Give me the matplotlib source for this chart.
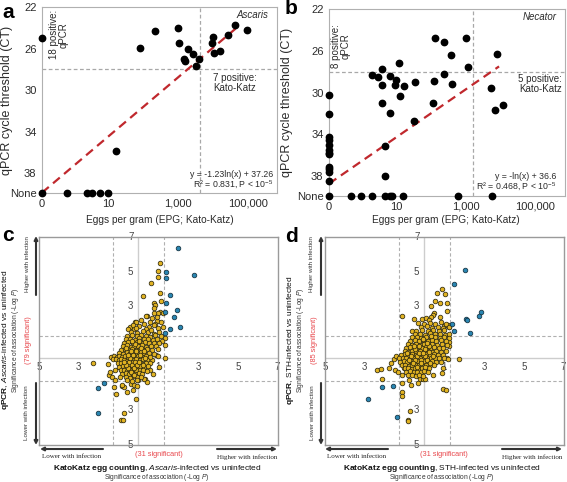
import numpy as np
import matplotlib
matplotlib.use("Agg")
import matplotlib.pyplot as plt

plt.rcParams['font.family'] = ['Liberation Sans', 'DejaVu Sans']
plt.rcParams['mathtext.fontset'] = 'custom'
plt.rcParams['mathtext.rm'] = 'Liberation Sans'
plt.rcParams['mathtext.it'] = 'Liberation Sans:italic'
plt.rcParams['mathtext.bf'] = 'Liberation Sans:bold'

# ---------------- top panels: EPG vs CT (None -> no qPCR signal) ----------------
a_epg = [0, 0, 0.63, 2.3, 3.4, 5.5, 9.3, 16, 81, 210, 1000, 1050, 1900, 1520, 1620,
         2700, 3240, 3900, 9300, 10200, 10700, 15500, 27600, 42900, 97000]
a_ct = [25.0, None, None, None, None, None, None, 35.9, 25.9, 24.3, 24.0, 25.5, 26.0,
        27.05, 27.2, 26.5, 27.65, 27.05, 25.45, 24.9, 26.4, 26.2, 24.7, 23.7, 24.2]
a_fit = (-1.23, 37.26)
a_fit_range = [0.12, 45000]
a_kk_cut = 4200

b_epg = [0] * 13 + [0.5, 1.0, 2.0, 4.9, 6.9, 7.6, 15.6, 600, 5600,
                    2.0, 3.0, 3.9, 3.9, 3.9, 4.9, 4.9, 6.7, 6.9, 9.6, 10, 12, 13.4, 17, 32, 35,
                    115, 123, 131, 234, 240, 390, 415, 990, 1130, 5260, 7100, 8100, 12000]
b_ct = [30.27, 32.05, 34.3, 34.56, 35.0, 35.49, 35.75, 35.9, 37.13, 37.36, 37.58, 38.48, None,
        None, None, None, None, None, None, None, None, None,
        28.35, 28.5, 27.75, 29.25, 31.0, 35.1, 37.95, 28.4, 32.0, 29.3, 28.75, 27.2, 30.35,
        29.4, 32.75, 29.0, 31.0, 28.85, 24.8, 28.2, 25.2, 26.4, 29.15, 24.75, 27.55, 29.55,
        31.65, 26.35, 31.15]
b_fit = (-1.0, 36.6)
b_fit_range = [0.12, 9000]
b_kk_cut = 1650

ct_cut = 28
zero_pos = 0.12
none_ct = 39.9
x_ticks = [zero_pos, 10, 1000, 100000]
x_ticklabels = ['0', '10', '1,000', '100,000']
y_ticks = [22, 26, 30, 34, 38, none_ct]
y_ticklabels = ['22', '26', '30', '34', '38', 'None']

# ---------------- bottom panels: -log P (signed) ----------------
c_blue = [(1.98, 6.34), (2.79, 4.82), (1.41, 4.99), (1.41, 4.64), (1.58, 3.64), (1.41, 3.2),
          (1.95, 2.77), (1.36, 2.68), (1.78, 2.4), (2.08, 1.81), (1.61, 1.69), (1.32, 1.46),
          (-1.71, -1.46), (-2.04, -1.73), (-2.04, -3.16)]
c_yellow = [
    # outliers
    (1.09, 5.47), (0.99, 5.05), (0.97, 4.7), (0.64, 4.35), (0.23, 3.58), (1.07, 3.74),
    (0.8, 3.2), (0.86, 3.05), (1.15, 3.28), (0.8, 2.91), (1.11, 2.64), (0.99, 2.6),
    (0.43, 2.43), (0.36, 2.42), (0.77, 2.62), (1.22, 2.58), (0.94, 2.16), (0.6, 2.1),
    (0.82, 2.0), (-0.16, 2.06), (-0.1, 2.08), (-0.41, 1.77), (-0.52, 1.71), (-0.24, 1.66),
    (1.16, 2.06), (1.22, 1.81), (1.32, 1.14), (1.36, 0.75), (1.32, -0.02), (1.04, -0.5),
    (0.69, -0.12), (0.89, 0.17), (0.6, -0.69), (0.35, -1.18), (0.43, -1.37), (0.26, -1.2),
    (0.73, -0.9), (-2.29, -0.31), (-1.54, -0.35), (-1.5, -0.98), (-1.22, -1.66),
    (-1.13, -2.05), (-0.82, -1.62), (-0.7, -1.66), (-0.58, -1.95), (-0.36, -1.51),
    (-0.28, -1.82), (-0.24, -1.57), (-0.12, -2.39), (-0.07, -1.62), (-0.86, -3.55),
    (-0.78, -3.57), (-0.71, -3.18), (-1.34, 0.08), (-1.42, -0.79), (-1.2, -0.69),
    (-1.34, -1.12), (-1.17, -1.27), (-0.83, -1.56), (0.0, -1.27), (0.1, -0.98),
    # upper arm
    (-0.25, 1.9), (0.05, 1.85), (0.3, 1.95), (0.55, 1.8), (0.8, 1.9), (1.0, 1.75),
    (0.15, 2.2), (0.7, 2.3), (0.95, 2.4), (0.4, 1.7), (-0.1, 1.72),
    # core
    (-0.35, 1.52), (-0.05, 1.45), (0.25, 1.55), (0.5, 1.48), (0.78, 1.42), (1.05, 1.5), (0.62, 1.62),
    (-0.55, 1.28), (-0.3, 1.33), (-0.08, 1.25), (0.15, 1.35), (0.38, 1.3), (0.6, 1.24), (0.85, 1.32),
    (1.12, 1.27), (-0.62, 1.08), (-0.4, 1.12), (-0.18, 1.05), (0.05, 1.14), (0.28, 1.08),
    (0.48, 1.12), (0.72, 1.05), (0.95, 1.1), (1.2, 0.98), (-0.7, 0.9), (-0.5, 0.94), (-0.28, 0.86),
    (-0.08, 0.92), (0.12, 0.88), (0.33, 0.95), (0.55, 0.86), (0.8, 0.9), (1.05, 0.85),
    (-0.78, 0.7), (-0.58, 0.74), (-0.38, 0.66), (-0.2, 0.72), (0.0, 0.68), (0.2, 0.75), (0.4, 0.66),
    (0.62, 0.72), (0.88, 0.68), (-0.85, 0.48), (-0.66, 0.53), (-0.48, 0.45), (-0.3, 0.52),
    (-0.12, 0.47), (0.06, 0.55), (0.25, 0.48), (0.45, 0.52), (0.7, 0.46), (0.98, 0.5),
    (-0.95, 0.3), (-0.75, 0.26), (-0.58, 0.33), (-0.4, 0.27), (-0.22, 0.32), (-0.05, 0.26),
    (0.12, 0.34), (0.3, 0.28), (0.52, 0.32), (0.78, 0.25), (-1.4, 0.05), (-1.25, 0.1),
    (-1.1, 0.04), (-0.95, 0.12), (-0.8, 0.06), (-0.65, 0.13), (-0.5, 0.07), (-0.35, 0.12),
    (-0.18, 0.05), (0.0, 0.1), (0.18, 0.06), (0.38, 0.12), (0.6, 0.08), (1.0, 0.1),
    (-1.3, -0.05), (-1.15, -0.08), (-1.0, -0.12), (-0.85, -0.06), (-0.7, -0.1), (-0.55, -0.14),
    (-0.4, -0.07), (-0.25, -0.12), (-0.1, -0.06), (0.08, -0.13), (0.25, -0.08), (0.45, -0.12),
    (-1.05, -0.3), (-0.88, -0.26), (-0.72, -0.33), (-0.56, -0.27), (-0.42, -0.32), (-0.28, -0.25),
    (-0.14, -0.31), (0.02, -0.27), (0.18, -0.33), (0.36, -0.28), (0.6, -0.3), (-0.95, -0.5),
    (-0.78, -0.46), (-0.62, -0.53), (-0.48, -0.47), (-0.34, -0.52), (-0.2, -0.46), (-0.05, -0.52),
    (0.1, -0.47), (0.28, -0.5), (0.5, -0.46), (-0.88, -0.7), (-0.7, -0.66), (-0.55, -0.72),
    (-0.4, -0.68), (-0.26, -0.73), (-0.1, -0.67), (0.06, -0.71), (0.22, -0.66), (0.42, -0.74),
    (-0.8, -0.9), (-0.62, -0.86), (-0.46, -0.93), (-0.3, -0.88), (-0.15, -0.94), (0.02, -0.87),
    (0.18, -0.92), (-0.92, -1.1), (-0.6, -1.08), (-0.42, -1.14), (-0.22, -1.06), (-0.05, -1.12),
    (0.12, -1.07), (-0.55, -1.28), (-0.3, -1.32), (-0.08, -1.27),
    (-0.45, -0.2), (-0.3, -0.4), (-0.15, -0.2), (-0.5, -0.6), (-0.35, -0.8), (-0.2, -0.6),
    (-0.05, -0.4), (0.05, -0.2), (-0.6, -0.4), (-0.4, 0.0), (-0.25, 0.2), (-0.1, 0.4), (0.1, 0.2),
    (-0.5, 0.2), (-0.35, 0.4), (-0.6, 0.6), (0.15, 0.6), (-0.15, 0.8), (0.05, 1.0), (-0.3, 1.0),
    (0.25, -0.4), (-0.7, -0.2), (-0.2, -1.0), (0.35, 0.0), (0.3, 0.4),
]

d_blue = [(2.05, 5.09), (1.5, 4.26), (2.85, 2.68), (2.75, 2.43), (2.1, 2.25), (2.16, 2.21),
          (1.41, 2.0), (1.5, 1.56), (2.3, 1.46), (-1.59, -1.6), (-2.15, -1.66), (-2.85, -2.37),
          (-1.39, -3.43)]
d_yellow = [
    # outliers
    (0.87, 3.97), (0.66, 3.74), (1.04, 3.68), (0.54, 3.29), (0.79, 3.16), (1.16, 3.2),
    (0.34, 3.02), (1.13, 2.72), (0.5, 2.62), (0.43, 2.47), (0.32, 2.39), (-1.14, 2.43),
    (-0.53, 2.28), (-0.13, 2.27), (0.07, 2.33), (0.25, 2.2), (0.8, 2.35), (1.2, 1.92),
    (1.25, 1.82), (0.97, 1.86), (-0.62, 1.55), (1.24, 0.94), (1.26, 0.71), (1.16, 0.02),
    (1.74, -0.04), (0.96, -0.56), (0.42, -0.98), (0.91, -0.89), (0.93, -1.77), (1.09, -1.86),
    (-2.36, -0.69), (-2.18, -0.62), (-1.79, -0.55), (-1.69, -0.31), (-1.52, -0.05),
    (-1.42, 0.13), (-1.47, -0.69), (-1.31, -0.83), (-1.14, -0.98), (-1.05, -0.6),
    (-2.15, -1.18), (-0.75, -1.27), (-0.22, -1.18), (-1.14, -1.46), (-0.69, -1.56),
    (-0.3, -1.46), (-1.14, -1.98), (-1.15, -2.2), (-0.05, -1.18), (0.04, -1.18),
    (-0.72, -3.04), (-0.84, -3.6), (-0.8, -3.62),
    # core
    (-0.3, 2.02), (0.0, 1.96), (0.3, 2.05), (0.55, 1.98), (0.85, 2.08), (1.1, 1.95),
    (-0.15, 1.78), (0.12, 1.84), (0.4, 1.76), (0.68, 1.82), (0.95, 1.75), (1.22, 1.8),
    (-0.4, 1.58), (-0.1, 1.62), (0.2, 1.55), (0.45, 1.63), (0.72, 1.57), (1.0, 1.6),
    (-0.45, 1.38), (-0.2, 1.42), (0.05, 1.36), (0.3, 1.43), (0.55, 1.37), (0.8, 1.42), (1.05, 1.35),
    (1.25, 1.4), (-0.6, 1.2), (-0.38, 1.24), (-0.15, 1.17), (0.1, 1.22), (0.32, 1.16), (0.55, 1.23),
    (0.78, 1.18), (1.0, 1.22), (1.22, 1.15), (-0.7, 0.98), (-0.48, 1.03), (-0.26, 0.96),
    (-0.05, 1.02), (0.16, 0.97), (0.38, 1.04), (0.6, 0.98), (0.85, 1.02), (1.1, 0.96),
    (-0.8, 0.8), (-0.6, 0.76), (-0.4, 0.83), (-0.2, 0.77), (0.0, 0.82), (0.2, 0.76), (0.4, 0.84),
    (0.62, 0.78), (0.88, 0.82), (1.15, 0.75), (-0.9, 0.58), (-0.7, 0.62), (-0.5, 0.56),
    (-0.3, 0.63), (-0.1, 0.57), (0.1, 0.62), (0.3, 0.55), (0.5, 0.62), (0.72, 0.57), (0.95, 0.6),
    (-1.0, 0.4), (-0.8, 0.36), (-0.6, 0.43), (-0.4, 0.37), (-0.2, 0.42), (0.0, 0.36), (0.2, 0.43),
    (0.4, 0.37), (0.6, 0.42), (0.85, 0.38), (1.1, 0.4), (-1.2, 0.18), (-1.0, 0.22), (-0.8, 0.16),
    (-0.6, 0.23), (-0.42, 0.17), (-0.25, 0.22), (-0.08, 0.16), (0.1, 0.23), (0.28, 0.17),
    (0.48, 0.22), (0.7, 0.16), (0.95, 0.2), (-1.3, 0.02), (-1.1, -0.02), (-0.9, 0.03),
    (-0.72, -0.03), (-0.55, 0.02), (-0.38, -0.02), (-0.2, 0.03), (-0.02, -0.03), (0.15, 0.02),
    (0.32, -0.02), (0.52, 0.03), (0.75, -0.02), (1.0, 0.02), (1.2, -0.03), (-1.25, -0.2),
    (-1.05, -0.17), (-0.85, -0.23), (-0.68, -0.18), (-0.5, -0.22), (-0.33, -0.17), (-0.16, -0.23),
    (0.0, -0.18), (0.18, -0.22), (0.36, -0.17), (0.58, -0.21), (0.85, -0.2), (-1.15, -0.4),
    (-0.95, -0.37), (-0.78, -0.43), (-0.6, -0.38), (-0.44, -0.42), (-0.28, -0.37), (-0.1, -0.43),
    (0.08, -0.38), (0.26, -0.42), (0.48, -0.4), (-1.0, -0.6), (-0.82, -0.56), (-0.64, -0.63),
    (-0.48, -0.57), (-0.3, -0.62), (-0.14, -0.57), (0.04, -0.62), (0.22, -0.58), (-0.9, -0.8),
    (-0.7, -0.77), (-0.52, -0.83), (-0.36, -0.78), (-0.18, -0.82), (0.0, -0.77), (0.2, -0.83),
    (-0.8, -1.0), (-0.6, -0.97), (-0.42, -1.03), (-0.25, -0.98), (-0.05, -1.02),
    (-0.35, 0.1), (-0.15, -0.1), (0.05, 0.1), (-0.45, -0.1), (-0.25, 0.3), (-0.05, 0.3),
    (0.15, -0.1), (-0.55, -0.3), (-0.35, -0.5), (-0.15, -0.3), (0.05, -0.5), (-0.65, 0.1),
    (-0.45, 0.5), (-0.25, 0.7), (0.05, 0.5), (0.25, 0.7), (0.15, 0.9), (-0.05, 1.1), (0.35, 1.3),
    (0.45, 0.1), (-0.75, -0.1), (-0.85, 0.3), (0.3, -0.3), (-0.5, 0.7), (0.25, 0.35),
]

quad_ticks = [-5, -3, -1, 1, 3, 5, 7]
sig_line = 1.3

W, H = 567, 482
fig = plt.figure(figsize=(W / 100, H / 100), dpi=100)


def P(x, y):
    # pixel position (from top-left) -> figure fraction
    return (x / W, 1 - y / H)


def box(l, t, r, b):
    return [l / W, 1 - b / H, (r - l) / W, (b - t) / H]


TXT = '#2b2b2b'
RED = '#e8474c'


def ct_panel(rect, epg, ct, fit, fit_range, kk_cut, name, pos_q, pos_kk, eq, r2):
    ax = fig.add_axes(rect)
    ex = [zero_pos if e == 0 else e for e in epg]
    ey = [none_ct if c is None else c for c in ct]
    ax.set_xscale('log')
    ax.set_xlim(zero_pos, 7e5)
    ax.set_ylim(none_ct, 22)
    ax.axhline(ct_cut, color='#a8a8a8', lw=0.9, dashes=(3, 2), zorder=1)
    ax.axvline(kk_cut, color='#a8a8a8', lw=0.9, dashes=(3, 2), zorder=1)
    fx = np.array(fit_range)
    ax.plot(fx, fit[0] * np.log(fx) + fit[1], color='#c0282d', lw=1.6,
            dashes=(4, 2.5), zorder=2)
    ax.scatter(ex, ey, s=21, color='black', zorder=3, clip_on=False)
    ax.set_xticks(x_ticks)
    ax.set_xticklabels(x_ticklabels)
    ax.minorticks_off()
    ax.set_yticks(y_ticks)
    ax.set_yticklabels(y_ticklabels)
    ax.tick_params(length=0, pad=4, labelsize=8, labelcolor=TXT)
    for s in ax.spines.values():
        s.set_color('#b0b0b0')
        s.set_linewidth(0.8)
    ax.text(0.965, 0.955, name, transform=ax.transAxes, ha='right', va='center',
            fontsize=7, style='italic', color=TXT)
    ax.text(pos_q[0], pos_q[1], pos_q[2], transform=ax.transAxes, rotation=90,
            ha='center', va='center', multialignment='center', fontsize=7,
            color=TXT, linespacing=0.95)
    ax.text(pos_kk[0], pos_kk[1], pos_kk[2], transform=ax.transAxes,
            ha='center', va='center', multialignment='center', fontsize=7,
            color=TXT, linespacing=1.0)
    ax.text(eq[0], eq[1], eq[2], transform=ax.transAxes, ha='right', va='center',
            fontsize=6.3, color=TXT)
    ax.text(r2[0], r2[1], r2[2], transform=ax.transAxes, ha='right', va='center',
            fontsize=6.3, color=TXT)
    return ax


ct_panel(box(42, 7, 277, 193), a_epg, a_ct, a_fit, a_fit_range, a_kk_cut, 'Ascaris',
         (0.072, 0.85, '18 positive:\nqPCR'), (0.82, 0.59, '7 positive:\nKato-Katz'),
         (0.985, 0.098, 'y = -1.23ln(x) + 37.26'),
         (0.985, 0.042, 'R² = 0.831, P < 10$^{-5}$'))
ct_panel(box(329, 9, 565, 196), b_epg, b_ct, b_fit, b_fit_range, b_kk_cut, 'Necator',
         (0.05, 0.80, '8 positive:\nqPCR'), (0.895, 0.60, '5 positive:\nKato-Katz'),
         (0.962, 0.105, 'y = -ln(x) + 36.6'),
         (0.962, 0.047, 'R² = 0.468, P < 10$^{-5}$'))

for lbl, xy in [('a', (8, 12)), ('b', (291, 9)), ('c', (8, 235)), ('d', (292, 236))]:
    fig.text(*P(*xy), lbl, fontsize=15, fontweight='bold', ha='center', va='center')

for xy in [(7, 100), (287, 102)]:
    fig.text(*P(*xy), 'qPCR cycle threshold (CT)', rotation=90, ha='center',
             va='center', fontsize=9, color=TXT)
for xy in [(160, 220), (446, 220)]:
    fig.text(*P(*xy), 'Eggs per gram (EPG; Kato-Katz)', ha='center', va='center',
             fontsize=7.3, color=TXT)


def quad_panel(rect, yellow, blue):
    ax = fig.add_axes(rect)
    ax.set_xlim(-5, 7)
    ax.set_ylim(-5, 7)
    ax.axvline(0, color='#cdcdcd', lw=1.0, zorder=1)
    ax.axhline(0, color='#cdcdcd', lw=1.0, zorder=1)
    for v in (-sig_line, sig_line):
        ax.axvline(v, color='#b0b0b0', lw=0.8, dashes=(3, 2), zorder=1)
        ax.axhline(v, color='#b0b0b0', lw=0.8, dashes=(3, 2), zorder=1)
    ax.set_xticks([])
    ax.set_yticks([])
    for s in ax.spines.values():
        s.set_color('#9a9a9a')
        s.set_linewidth(1.0)
    for t in quad_ticks:
        ax.text(t, -0.5, str(abs(t)), ha='center', va='center', fontsize=7,
                color='#444444', zorder=2, clip_on=False)
        ax.text(-0.25, t, str(abs(t)), ha='right', va='center', fontsize=7,
                color='#444444', zorder=2, clip_on=False)
    yx, yy = zip(*yellow)
    bx, by = zip(*blue)
    ax.scatter(yx, yy, s=11, color='#e2b322', edgecolors='#2e2a10', linewidths=0.55,
               zorder=3)
    ax.scatter(bx, by, s=11, color='#2a86b2', edgecolors='#14303e', linewidths=0.55,
               zorder=4)
    return ax


quad_panel(box(39, 237, 277.5, 444.6), c_yellow, c_blue)
quad_panel(box(325, 237, 563.5, 444.6), d_yellow, d_blue)


def arrow(x0, y0, x1, y1):
    fig.add_artist(matplotlib.patches.FancyArrowPatch(
        P(x0, y0), P(x1, y1), transform=fig.transFigure, arrowstyle='-|>',
        mutation_scale=5, color='#333333', lw=1.5, shrinkA=0, shrinkB=0))


for dx, left_lab, bottom_lab, qsig in [
        (0, r'$\mathbf{qPCR}$, $\mathit{Ascaris}$-infected vs uninfected',
         r'$\mathbf{KatoKatz\ egg\ counting}$, $\mathit{Ascaris}$-infected vs uninfected',
         '(79 significant)'),
        (285, r'$\mathbf{qPCR}$, STH-infected vs uninfected',
         r'$\mathbf{KatoKatz\ egg\ counting}$, STH-infected vs uninfected',
         '(85 significant)')]:
    fig.text(*P(6 + dx, 340), left_lab, rotation=90, ha='center', va='center',
             fontsize=6, color='#111111')
    fig.text(*P(15.5 + dx, 340), r'Significance of association (-Log $\mathit{P}$)',
             rotation=90, ha='center', va='center', fontsize=4.8, color='#333333')
    fig.text(*P(29 + dx, 340), qsig, rotation=90, ha='center', va='center',
             fontsize=5.3, color=RED)
    fig.text(*P(27 + dx, 264), 'Higher with infection', rotation=90, ha='center',
             va='center', fontsize=4.5, color='#333333')
    fig.text(*P(27 + dx, 413), 'Lower with infection', rotation=90, ha='center',
             va='center', fontsize=4.5, color='#333333')
    arrow(36 + dx, 295, 36 + dx, 236)
    arrow(36 + dx, 383, 36 + dx, 445)
    arrow(103 + dx, 449, 40 + dx, 449)
    arrow(217 + dx, 449, 277 + dx, 449)
    fig.text(*P(72 + dx, 457), 'Lower with infection', ha='center', va='center',
             fontsize=5, family='Liberation Serif', color='#222222')
    fig.text(*P(247 + dx, 457), 'Higher with infection', ha='center', va='center',
             fontsize=5, family='Liberation Serif', color='#222222')
    fig.text(*P(159 + dx, 455), '(31 significant)', ha='center', va='center',
             fontsize=5.3, color=RED)
    fig.text(*P(157 + dx, 468), bottom_lab, ha='center', va='center', fontsize=6,
             color='#111111')
    fig.text(*P(157 + dx, 477.5), r'Significance of association (-Log $\mathit{P}$)',
             ha='center', va='center', fontsize=4.8, color='#333333')

fig.savefig('out.png', dpi=100)
